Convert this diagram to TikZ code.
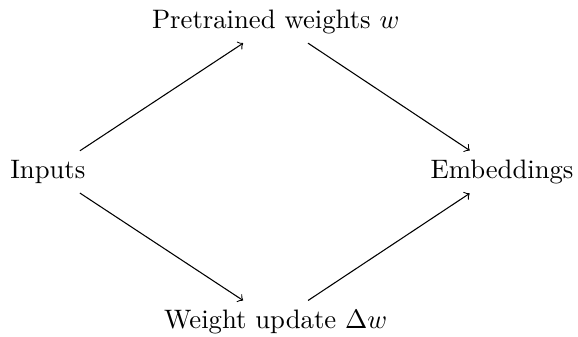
\documentclass[tikz,border=0pt]{standalone}
\usepackage{amsmath,amssymb}

\begin{document}
\begin{tikzpicture}[every node/.style={transform shape}]
[line width=1pt]
\useasboundingbox (0,0) rectangle (7.61,4.436);

\path (0.63,2.172) node (In) [shape=rectangle] {Inputs};
\path (3.63,4.15) node (W) [shape=rectangle] {Pretrained weights $w$};
\path (3.63,0.197) node (DW) [shape=rectangle] {Weight update $\Delta w$};
\path (6.61,2.172) node (Emb) [shape=rectangle] {Embeddings};

\draw[->] (In) -- (W);
\draw[->] (W) -- (Emb);
\draw[->] (In) -- (DW);
\draw[->] (DW) -- (Emb);

\end{tikzpicture}
\end{document}
